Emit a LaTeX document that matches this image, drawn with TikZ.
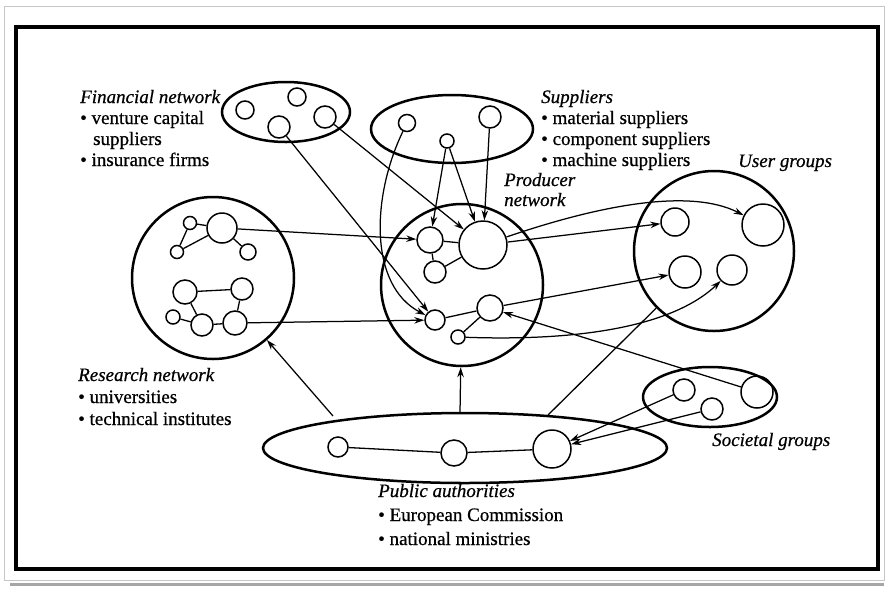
\documentclass[tikz,border=0pt]{standalone}
\usepackage{fontspec}
\setmainfont[FakeBold=0.6]{Liberation Serif}
\usetikzlibrary{shapes.geometric,arrows.meta}
\begin{document}
\begin{tikzpicture}[x=1pt,y=-1pt,
  grp/.style={draw, line width=2.5pt, inner sep=0pt},
  sm/.style={circle, draw, line width=1.5pt, inner sep=0pt},
  lnk/.style={line width=1.3pt},
  arr/.style={line width=1.25pt, -{Stealth[length=10pt,width=6.5pt]}},
  lab/.style={font=\fontsize{19}{22}\selectfont\itshape, inner sep=0pt, anchor=base west},
  txt/.style={font=\fontsize{19}{22}\selectfont, inner sep=0pt, anchor=base west},
]
\useasboundingbox (0,0) rectangle (886,590);
% paper and frame
\draw[gray!45, line width=1pt] (4,6) rectangle (884,580);
\draw[gray!70, line width=3pt] (10,584) -- (884,584);
\draw[line width=3.5pt] (16,27) rectangle (878,569);

% group shapes
\node[grp, ellipse, minimum width=128, minimum height=60] (fin) at (286,112) {};
\node[grp, ellipse, minimum width=162, minimum height=68] (sup) at (452,129) {};
\node[grp, circle, minimum size=162] (prod) at (462,285) {};
\node[grp, circle, minimum size=160] (user) at (714,251) {};
\node[grp, circle, minimum size=162] (res) at (213,278) {};
\node[grp, ellipse, minimum width=404, minimum height=70] (pub) at (465,448) {};
\node[grp, ellipse, minimum width=134, minimum height=60] (soc) at (710,397) {};

% financial
\node[sm, minimum size=18] (f1) at (245,110) {};
\node[sm, minimum size=18] (f2) at (297,97) {};
\node[sm, minimum size=22] (f3) at (279,127) {};
\node[sm, minimum size=22] (f4) at (325,117) {};
% suppliers
\node[sm, minimum size=17] (s1) at (407,123) {};
\node[sm, minimum size=14] (s2) at (447,141) {};
\node[sm, minimum size=22] (s3) at (490,117) {};
% producer
\node[sm, minimum size=26] (p1) at (430,240) {};
\node[sm, minimum size=48] (p2) at (483,245) {};
\node[sm, minimum size=22] (p3) at (435,272) {};
\node[sm, minimum size=20] (p4) at (435,320) {};
\node[sm, minimum size=26] (p5) at (490,308) {};
\node[sm, minimum size=14] (p6) at (458,337) {};
% user
\node[sm, minimum size=28] (u1) at (675,222) {};
\node[sm, minimum size=42] (u2) at (763,225) {};
\node[sm, minimum size=32] (u3) at (685,272) {};
\node[sm, minimum size=30] (u4) at (732,270) {};
% research
\node[sm, minimum size=13] (r1) at (190,223) {};
\node[sm, minimum size=30] (r2) at (222,228) {};
\node[sm, minimum size=13] (r3) at (177,252) {};
\node[sm, minimum size=16] (r4) at (248,252) {};
\node[sm, minimum size=24] (r5) at (185,292) {};
\node[sm, minimum size=22] (r6) at (242,289) {};
\node[sm, minimum size=14] (r7) at (173,317) {};
\node[sm, minimum size=22] (r8) at (202,325) {};
\node[sm, minimum size=24] (r9) at (235,323) {};
% public
\node[sm, minimum size=20] (a1) at (338,447) {};
\node[sm, minimum size=26] (a2) at (454,453) {};
\node[sm, minimum size=38] (a3) at (552,449) {};
% societal
\node[sm, minimum size=22] (g1) at (684,390) {};
\node[sm, minimum size=22] (g2) at (712,409) {};
\node[sm, minimum size=32] (g3) at (757,392) {};

% internal links
\draw[lnk] (r1) -- (r2);
\draw[lnk] (r1) -- (r3);
\draw[lnk] (r3) -- (r2);
\draw[lnk] (r2) -- (r4);
\draw[lnk] (r5) -- (r6);
\draw[lnk] (r5) -- (r8);
\draw[lnk] (r6) -- (r9);
\draw[lnk] (r7) -- (r8);
\draw[lnk] (r8) -- (r9);
\draw[lnk] (p1) -- (p2);
\draw[lnk] (p1) -- (p3);
\draw[lnk] (p3) -- (p2);
\draw[lnk] (p4) -- (p5);
\draw[lnk] (p5) -- (p6);
\draw[lnk] (a1) -- (a2);
\draw[lnk] (a2) -- (a3);

% connectors
\draw[arr] (f3) -- (p4);
\draw[arr] (f4) -- (p2);
\draw[arr] (s1) .. controls (372,195) and (368,285) .. (p4);
\draw[arr] (s2) -- (p1);
\draw[arr] (s2) -- (p2);
\draw[arr] (s3) -- (p2);
\draw[arr] (r2) -- (p1);
\draw[arr] (r9) -- (p4);
\draw[arr] (p2) -- (u1);
\draw[arr] (p2) .. controls (600,205) and (690,188) .. (u2);
\draw[arr] (p5) -- (u3);
\draw[arr] (p6) .. controls (600,342) and (680,320) .. (u4);
\draw[arr] (g3) -- (p5);
\draw[arr] (g1) -- (a3);
\draw[arr] (g2) -- (a3);
\coordinate (pa1) at (333,416);
\coordinate (pa2) at (460,413);
\coordinate (pa3) at (548,415);
\draw[arr] (pa1) -- (res);
\draw[arr] (pa2) -- (prod);
\draw[lnk] (pa3) -- (user);

% texts
\node[lab] (tfin) at (80,103) {Financial network};
\node[txt] (tfin1) at (80,124) {• venture capital};
\node[txt] (tfin2) at (93,145) {suppliers};
\node[txt] (tfin3) at (80,166) {• insurance firms};

\node[lab] (tsup) at (541,103) {Suppliers};
\node[txt] (tsup1) at (541,124) {• material suppliers};
\node[txt] (tsup2) at (541,145) {• component suppliers};
\node[txt] (tsup3) at (541,166) {• machine suppliers};

\node[lab] (tpro1) at (504,186) {Producer};
\node[lab] (tpro2) at (504,206) {network};

\node[lab] (tusr) at (738,167) {User groups};

\node[lab] (tres) at (78,381) {Research network};
\node[txt] (tres1) at (78,403) {• universities};
\node[txt] (tres2) at (78,425) {• technical institutes};

\node[lab] (tsoc) at (712,446) {Societal groups};

\node[lab] (tpub) at (378,497) {Public authorities};
\node[txt] (tpub1) at (378,521) {• European Commission};
\node[txt] (tpub2) at (378,545) {• national ministries};
\end{tikzpicture}
\end{document}
